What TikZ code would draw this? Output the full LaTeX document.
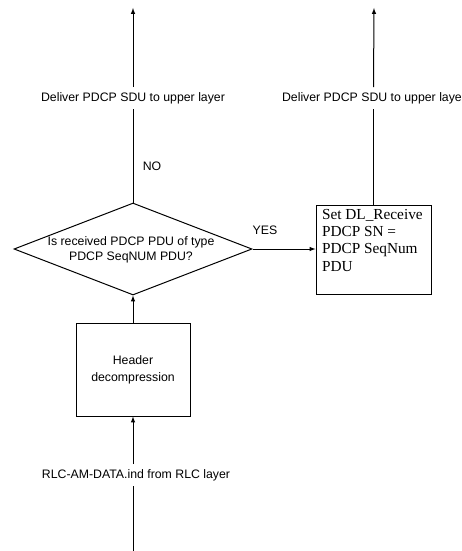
\documentclass[tikz,border=0pt]{standalone}
\usepackage{fontspec}
\setmainfont{Liberation Serif}
\setsansfont{Liberation Sans}
\usetikzlibrary{shapes.geometric}

\begin{document}
\begin{tikzpicture}[x=1pt,y=-1pt,>=latex,
  flow/.style={line width=1pt},
  txt/.style={font=\sffamily\fontsize{12.3}{15}\selectfont,inner sep=5pt},
  procbox/.style={draw,line width=1pt,minimum width=114pt,minimum height=93pt},
  decision/.style={draw,diamond,line width=1pt,minimum width=238pt,minimum height=92pt,inner sep=0pt}
]
\useasboundingbox (0,0) rectangle (462,551);

\coordinate (topl) at (133,8);
\coordinate (topr) at (374,8);
\coordinate (rlcin) at (133,551);

\node[txt] (deliverl) at (133,98) {Deliver PDCP SDU to upper layer};
\node[txt] (deliverr) at (374,98) {Deliver PDCP SDU to upper layer};
\node[txt] (no) at (152,166) {NO};
\node[txt] (yes) at (265,230) {YES};

\node[decision] (check) at (133,249) {};
\node[txt,align=center] (checktext) at (131,249.5) {Is received PDCP PDU of type\\PDCP SeqNUM PDU?};

\node[procbox,minimum width=115pt,minimum height=89pt,inner sep=0pt,
  font=\fontsize{15.3}{17.3}\selectfont] (setsn) at (373.5,249.5) {
\parbox[c][89pt][t]{103pt}{
\vspace{4pt}
Set DL\_Receive\\
PDCP SN =\\
PDCP SeqNum\\
PDU}
};

\node[procbox,align=center,font=\sffamily\fontsize{12.3}{17}\selectfont] (header) at (133,369.5) {Header\\decompression};

\node[txt] (rlc) at (136,475) {RLC-AM-DATA.ind from RLC layer};

% bottom up
\draw[flow] (rlcin) -- (rlcin |- rlc.south);
\draw[flow,->] (header.south |- rlc.north) -- (header.south);
\draw[flow,->] (header) -- (check);
% NO branch
\draw[flow] (check) -- (deliverl);
\draw[flow,->] (deliverl) -- (topl);
% YES branch
\draw[flow,->] (check.east) -- (check.east -| setsn.west);
\draw[flow] (setsn.north) -- (setsn.north |- deliverr.south);
\draw[flow,->] (setsn.north |- deliverr.north) -- (topr);

\end{tikzpicture}
\end{document}
